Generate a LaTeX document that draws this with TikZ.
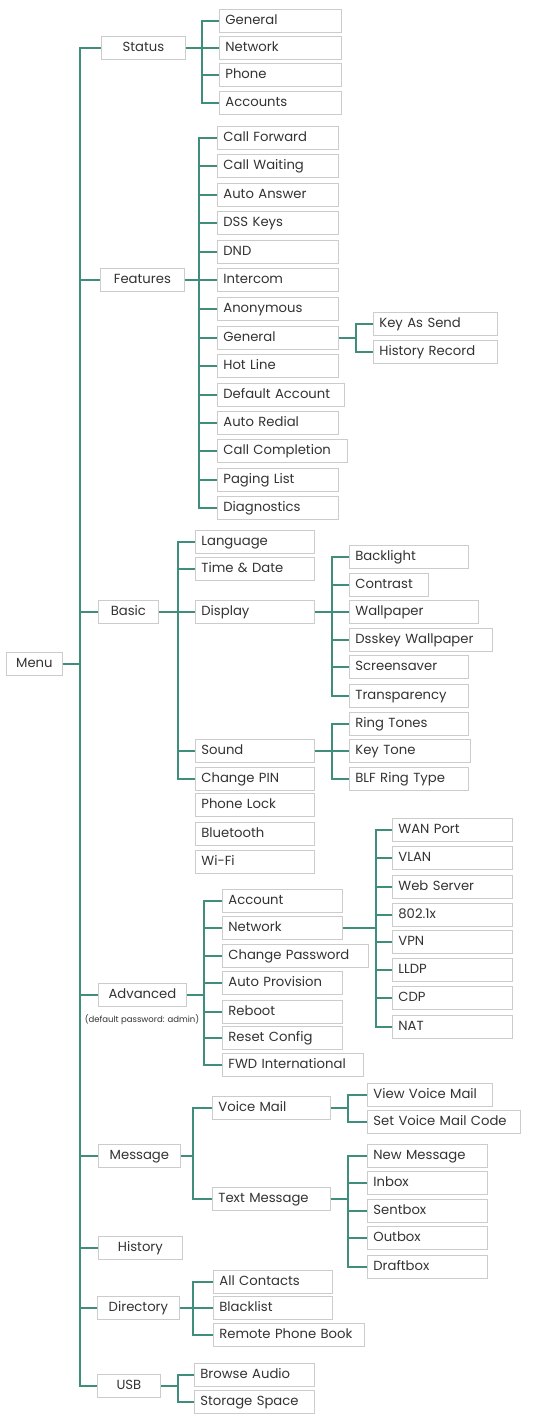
\documentclass[tikz,border=0pt]{standalone}
\usepackage{fontspec}
\setmainfont{Poppins}
\usepackage{xcolor}
\definecolor{fline}{HTML}{3F8D7B}
\definecolor{fbox}{HTML}{CCCCCC}
\definecolor{ftext}{HTML}{333333}
\tikzset{
  box/.style  = {draw=fbox, line width=0.8pt, minimum height=23pt, inner ysep=0pt,
                 text=ftext, font=\fontsize{13.2}{15}\selectfont,
                 text height=1.6ex, text depth=0.45ex},
  head/.style = {box, anchor=west, minimum width=#1, inner xsep=0pt},
  item/.style = {box, anchor=west, inner xsep=6pt, text width=#1-12pt, align=left},
  link/.style = {fline, line width=2pt},
}

\begin{document}
\begin{tikzpicture}[x=1pt,y=-1pt]
\fill[white] (0,0) rectangle (534,1417);
\useasboundingbox (0,0) rectangle (534,1417);
% ---- root and first level ----
\node[head=56pt] (Menu) at (6,664) {Menu};
\coordinate (mbus) at (80,664);
\node[head=84pt] (Status) at (101,48) {Status};
\node[head=84pt] (Feat) at (100,280) {Features};
\node[head=60pt] (Basic) at (98,612) {Basic};
\node[head=88pt] (Adv) at (98,995) {Advanced};
\node[font=\fontsize{8.5}{9}\selectfont,text=ftext] (AdvNote) at (142,1020) {(default password: admin)};
\node[head=82pt] (Msg) at (98,1156) {Message};
\node[head=84pt] (Hist) at (98,1248) {History};
\node[head=82pt] (Dir) at (97,1308) {Directory};
\node[head=63pt] (USB) at (97,1386) {USB};
\draw[link] (Menu.east) -- (mbus);
\foreach \n in {Status,Feat,Basic,Adv,Msg,Hist,Dir,USB}
  \draw[link] (mbus) |- (\n.west);
% ---- status ----
\node[item=122pt] (St1) at (219,21) {General};
\node[item=122pt] (St2) at (219,48) {Network};
\node[item=122pt] (St3) at (219,75) {Phone};
\node[item=122pt] (St4) at (219,103) {Accounts};
\coordinate (bSt) at (202,48);
\draw[link] (Status.east) -- (bSt);
\foreach \n in {St1,St2,St3,St4} \draw[link] (bSt) |- (\n.west);
% ---- features ----
\node[item=121pt] (F1) at (217,138) {Call Forward};
\node[item=121pt] (F2) at (217,166) {Call Waiting};
\node[item=121pt] (F3) at (217,195) {Auto Answer};
\node[item=121pt] (F4) at (217,223) {DSS Keys};
\node[item=121pt] (F5) at (217,252) {DND};
\node[item=121pt] (F6) at (217,280) {Intercom};
\node[item=121pt] (F7) at (217,309) {Anonymous};
\node[item=121pt] (F8) at (217,338) {General};
\node[item=121pt] (F9) at (217,366) {Hot Line};
\node[item=127pt] (F10) at (217,395) {Default Account};
\node[item=121pt] (F11) at (217,423) {Auto Redial};
\node[item=130pt] (F12) at (217,451) {Call Completion};
\node[item=121pt] (F13) at (217,480) {Paging List};
\node[item=121pt] (F14) at (217,508) {Diagnostics};
\coordinate (bFe) at (199,280);
\draw[link] (Feat.east) -- (bFe);
\foreach \n in {F1,F2,F3,F4,F5,F6,F7,F8,F9,F10,F11,F12,F13,F14}
  \draw[link] (bFe) |- (\n.west);
% general
\node[item=124pt] (G1) at (373,324) {Key As Send};
\node[item=124pt] (G2) at (373,352) {History Record};
\coordinate (bGe) at (356,338);
\draw[link] (F8.east) -- (bGe);
\foreach \n in {G1,G2} \draw[link] (bGe) |- (\n.west);
% ---- basic ----
\node[item=119pt] (B1) at (195,542) {Language};
\node[item=119pt] (B2) at (195,569) {Time \& Date};
\node[item=119pt] (B3) at (195,612) {Display};
\node[item=119pt] (B4) at (195,751) {Sound};
\node[item=119pt] (B5) at (195,779) {Change PIN};
\node[item=119pt] (B6) at (195,805) {Phone Lock};
\node[item=119pt] (B7) at (195,834) {Bluetooth};
\node[item=119pt] (B8) at (195,862) {Wi-Fi};
\coordinate (bBa) at (178,612);
\draw[link] (Basic.east) -- (bBa);
\foreach \n in {B1,B2,B3,B4,B5} \draw[link] (bBa) |- (\n.west);
% display
\node[item=119pt] (D1) at (349,557) {Backlight};
\node[item=79pt] (D2) at (349,585) {Contrast};
\node[item=129pt] (D3) at (349,612) {Wallpaper};
\node[item=143pt] (D4) at (349,640) {Dsskey Wallpaper};
\node[item=119pt] (D5) at (349,667) {Screensaver};
\node[item=119pt] (D6) at (349,696) {Transparency};
\coordinate (bDi) at (332,612);
\draw[link] (B3.east) -- (bDi);
\foreach \n in {D1,D2,D3,D4,D5,D6} \draw[link] (bDi) |- (\n.west);
% sound
\node[item=119pt] (S1) at (349,724) {Ring Tones};
\node[item=121pt] (S2) at (349,751) {Key Tone};
\node[item=119pt] (S3) at (349,779) {BLF Ring Type};
\coordinate (bSo) at (332,751);
\draw[link] (B4.east) -- (bSo);
\foreach \n in {S1,S2,S3} \draw[link] (bSo) |- (\n.west);
% ---- advanced ----
\node[item=120pt] (A1) at (222,901) {Account};
\node[item=120pt] (A2) at (222,928) {Network};
\node[item=146pt] (A3) at (222,956) {Change Password};
\node[item=120pt] (A4) at (222,983) {Auto Provision};
\node[item=120pt] (A5) at (222,1012) {Reboot};
\node[item=120pt] (A6) at (222,1038) {Reset Config};
\node[item=141pt] (A7) at (222,1065) {FWD International};
\coordinate (bAd) at (204,995);
\draw[link] (Adv.east) -- (bAd);
\foreach \n in {A1,A2,A3,A4,A5,A6,A7} \draw[link] (bAd) |- (\n.west);
% network
\node[item=120pt] (N1) at (392,830) {WAN Port};
\node[item=120pt] (N2) at (392,858) {VLAN};
\node[item=120pt] (N3) at (392,887) {Web Server};
\node[item=120pt] (N4) at (392,915) {802.1x};
\node[item=120pt] (N5) at (392,942) {VPN};
\node[item=120pt] (N6) at (392,970) {LLDP};
\node[item=120pt] (N7) at (392,998) {CDP};
\node[item=120pt] (N8) at (392,1027) {NAT};
\coordinate (bNe) at (376,928);
\draw[link] (A2.east) -- (bNe);
\foreach \n in {N1,N2,N3,N4,N5,N6,N7,N8} \draw[link] (bNe) |- (\n.west);
% ---- message ----
\node[item=118pt] (M1) at (212,1108) {Voice Mail};
\node[item=118pt] (M2) at (212,1199) {Text Message};
\coordinate (bMe) at (193,1156);
\draw[link] (Msg.east) -- (bMe);
\foreach \n in {M1,M2} \draw[link] (bMe) |- (\n.west);
% voice mail
\node[item=125pt] (V1) at (367,1095) {View Voice Mail};
\node[item=153pt] (V2) at (367,1122) {Set Voice Mail Code};
\coordinate (bVo) at (348,1108);
\draw[link] (M1.east) -- (bVo);
\foreach \n in {V1,V2} \draw[link] (bVo) |- (\n.west);
% text message
\node[item=120pt] (T1) at (367,1156) {New Message};
\node[item=120pt] (T2) at (367,1183) {Inbox};
\node[item=120pt] (T3) at (367,1211) {Sentbox};
\node[item=120pt] (T4) at (367,1238) {Outbox};
\node[item=120pt] (T5) at (367,1267) {Draftbox};
\coordinate (bTe) at (348,1199);
\draw[link] (M2.east) -- (bTe);
\foreach \n in {T1,T2,T3,T4,T5} \draw[link] (bTe) |- (\n.west);
% ---- directory ----
\node[item=119pt] (R1) at (213,1282) {All Contacts};
\node[item=119pt] (R2) at (213,1308) {Blacklist};
\node[item=151pt] (R3) at (213,1335) {Remote Phone Book};
\coordinate (bDr) at (193,1308);
\draw[link] (Dir.east) -- (bDr);
\foreach \n in {R1,R2,R3} \draw[link] (bDr) |- (\n.west);
% ---- usb ----
\node[item=120pt] (U1) at (194,1375) {Browse Audio};
\node[item=120pt] (U2) at (194,1402) {Storage Space};
\coordinate (bUs) at (178,1386);
\draw[link] (USB.east) -- (bUs);
\foreach \n in {U1,U2} \draw[link] (bUs) |- (\n.west);
\end{tikzpicture}
\end{document}
